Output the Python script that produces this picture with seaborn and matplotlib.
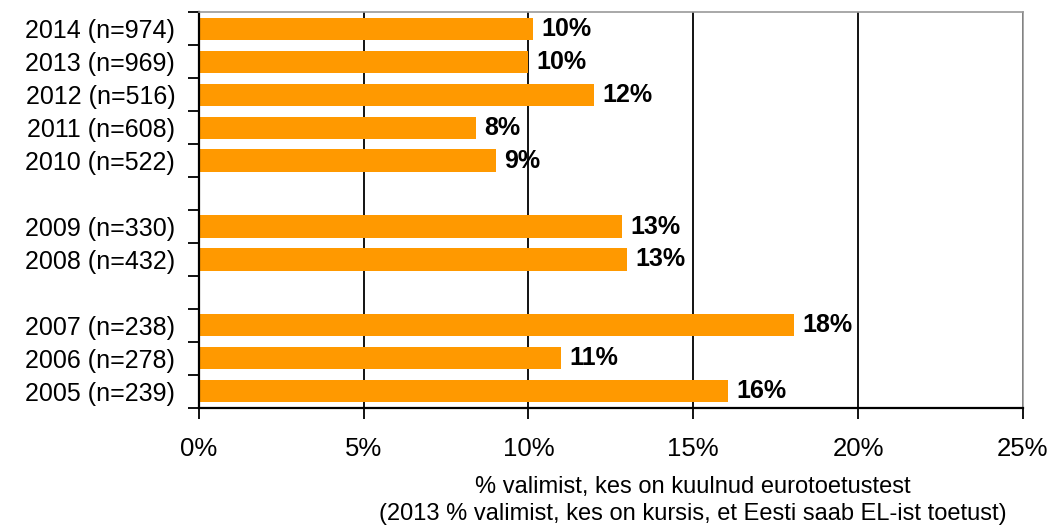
import numpy as np
import pandas as pd
import matplotlib
matplotlib.use("Agg")
import matplotlib.pyplot as plt
import seaborn as sns

labels = ["2014 (n=974)", "2013 (n=969)", "2012 (n=516)", "2011 (n=608)", "2010 (n=522)",
          "2009 (n=330)", "2008 (n=432)",
          "2007 (n=238)", "2006 (n=278)", "2005 (n=239)"]
values = [10.15, 10.0, 12.0, 8.4, 9.0, 12.85, 13.0, 18.05, 11.0, 16.05]
# empty slots separate the survey groups
order = labels[:5] + [" "] + labels[5:7] + ["  "] + labels[7:]
xticks = [0, 5, 10, 15, 20, 25]

df = pd.DataFrame({"label": labels, "value": values})

sns.set_style("white")
plt.rcParams["font.family"] = ["Liberation Sans", "DejaVu Sans"]
plt.rcParams["text.color"] = "black"
plt.rcParams["xtick.color"] = "black"
plt.rcParams["ytick.color"] = "black"
plt.rcParams["axes.labelcolor"] = "black"

fig = plt.figure(figsize=(10.52, 5.27), dpi=100)
ax = fig.add_axes([0.189, 0.226, 0.7834, 0.751])

sns.barplot(data=df, x="value", y="label", order=order, color="#FF9900",
            saturation=1, width=0.67, linewidth=0, ax=ax)

# value labels
for cont in ax.containers:
    ax.bar_label(cont, labels=[f"{v:.0f}%" for v in cont.datavalues],
                 padding=6, fontsize=18, fontweight="bold", color="black")

ax.set_xlim(0, 25)
ax.set_xticks(xticks)
ax.set_xticklabels([f"{t}%" for t in xticks], fontsize=18.5)
ax.xaxis.grid(True, color="black", linewidth=1.3)
ax.set_axisbelow(True)

ax.set_ylim(len(order) - 0.5, -0.5)
ax.set_yticks(np.arange(len(order)))
ax.set_yticklabels(order, fontsize=18)
ax.set_yticks(np.arange(-0.5, len(order)), minor=True)
ax.tick_params(axis="y", which="major", length=0, pad=17)
ax.tick_params(axis="y", which="minor", left=True, length=8, width=1.3, color="black")
ax.tick_params(axis="x", bottom=True, length=8, width=1.3, color="black", pad=13)

for side in ["left", "bottom"]:
    ax.spines[side].set_color("black")
    ax.spines[side].set_linewidth(1.6)
for side in ["top", "right"]:
    ax.spines[side].set_color("#999999")
    ax.spines[side].set_linewidth(1.2)

ax.set_ylabel("")
ax.set_xlabel("% valimist, kes on kuulnud eurotoetustest\n"
              "(2013 % valimist, kes on kursis, et Eesti saab EL-ist toetust)",
              fontsize=17, linespacing=1.3)
ax.xaxis.set_label_coords(0.6, -0.172)
ax.xaxis.label.set_va("top")

fig.savefig("out.png", dpi=100)
